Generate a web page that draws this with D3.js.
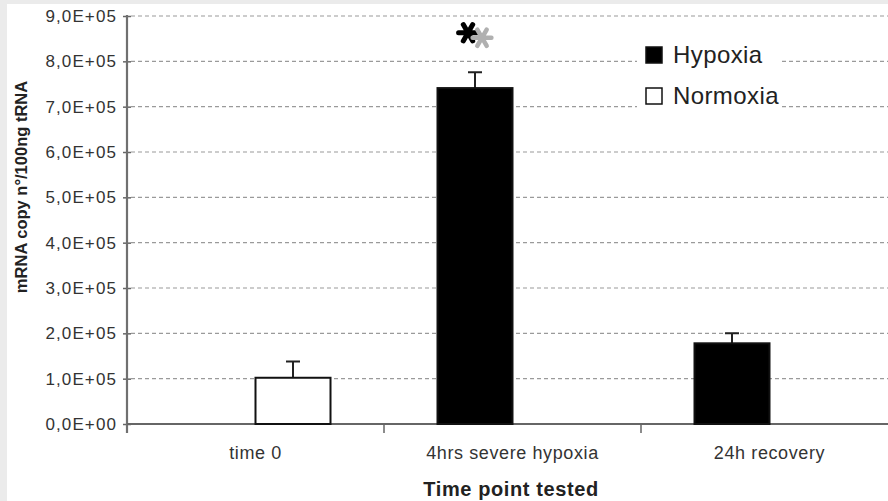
<!DOCTYPE html>
<html lang="en">
<head>
    <meta charset="UTF-8">
    <title>mRNA copy number</title>
    <script src="https://cdn.jsdelivr.net/npm/d3@7/dist/d3.min.js"></script>
    <style>
        html, body { margin: 0; padding: 0; background: #fff; }
        text { font-family: "Liberation Sans", Arial, sans-serif; }
    </style>
</head>
<body>
    <div class="chart"></div>
<script>
    // data
    const categories = ['time 0', '4hrs severe hypoxia', '24h recovery']
    const series = ['Hypoxia', 'Normoxia']
    const hypoxia = [null, 7.41e5, 1.78e5]
    const hypoxiaErr = [null, 0.35e5, 0.22e5]
    const normoxia = [1.02e5, null, null]
    const normoxiaErr = [0.36e5, null, null]
    const yTicks = [0, 1e5, 2e5, 3e5, 4e5, 5e5, 6e5, 7e5, 8e5, 9e5]

    const width = 888
    const height = 501
    const padding = { top: 16, right: -10, bottom: 77, left: 127 }

    const svg = d3.select('.chart')
        .append('svg')
        .attr('width', width)
        .attr('height', height)

    // gray frame strips of the scan
    svg.append('rect').attr('x', 0).attr('y', 0).attr('width', width).attr('height', 4).attr('fill', '#ebebeb')
    svg.append('rect').attr('x', 0).attr('y', 0).attr('width', 7).attr('height', height).attr('fill', '#ebebeb')

    const x0 = d3.scaleBand()
        .domain(categories)
        .range([padding.left, width - padding.right])
        .padding(0)
    const groupW = 150
    const x1 = d3.scaleBand().domain(series).range([0, groupW])
    const yScale = d3.scaleLinear()
        .domain([0, 9e5])
        .range([height - padding.bottom, padding.top])

    const fmt = d => d === 0 ? '0,0E+00' : (d / 1e5).toFixed(1).replace('.', ',') + 'E+05'

    // dashed gridlines
    svg.append('g')
        .selectAll('line')
        .data(yTicks.filter(d => d > 0))
        .enter()
        .append('line')
        .attr('x1', padding.left + 4)
        .attr('x2', width)
        .attr('y1', d => yScale(d))
        .attr('y2', d => yScale(d))
        .attr('stroke', '#9a9a9a')
        .attr('stroke-width', 1.2)
        .attr('stroke-dasharray', '4,3')

    // legend background covers the grid
    svg.append('rect')
        .attr('x', 637).attr('y', 28)
        .attr('width', 145).attr('height', 94)
        .attr('fill', '#fff')

    // y axis
    const yAxis = d3.axisLeft(yScale)
        .tickValues(yTicks)
        .tickFormat(fmt)
        .tickSize(4)
        .tickPadding(6)
    const gY = svg.append('g')
        .attr('transform', `translate(${padding.left}, 0)`)
        .call(yAxis)
    gY.select('.domain').remove()
    gY.selectAll('.tick line')
        .attr('x1', -4).attr('x2', 4)
        .attr('stroke', '#666').attr('stroke-width', 1.5)
    gY.selectAll('.tick text')
        .attr('font-size', '17px')
        .attr('letter-spacing', '1.1px')
        .attr('fill', '#333')
        .attr('font-family', '"Liberation Sans", Arial, sans-serif')
    gY.append('line')
        .attr('x1', 0).attr('x2', 0)
        .attr('y1', padding.top - 1)
        .attr('y2', height - padding.bottom + 9)
        .attr('stroke', '#707070')
        .attr('stroke-width', 2.2)

    // x axis
    const base = height - padding.bottom
    svg.append('line')
        .attr('x1', padding.left).attr('x2', width)
        .attr('y1', base).attr('y2', base)
        .attr('stroke', '#666').attr('stroke-width', 1.8)
    svg.append('g')
        .selectAll('line')
        .data(categories.slice(1))
        .enter()
        .append('line')
        .attr('x1', d => x0(d)).attr('x2', d => x0(d))
        .attr('y1', base).attr('y2', base + 9)
        .attr('stroke', '#666').attr('stroke-width', 1.5)
    svg.append('g')
        .selectAll('text')
        .data(categories)
        .enter()
        .append('text')
        .attr('x', d => x0(d) + x0.bandwidth() / 2)
        .attr('y', base + 35)
        .attr('text-anchor', 'middle')
        .attr('font-size', '18px')
        .attr('letter-spacing', '0.6px')
        .attr('fill', '#333')
        .text(d => d)

    // bars
    const rows = []
    categories.forEach((c, i) => {
        rows.push({ cat: c, s: 'Hypoxia', v: hypoxia[i], e: hypoxiaErr[i] })
        rows.push({ cat: c, s: 'Normoxia', v: normoxia[i], e: normoxiaErr[i] })
    })
    const data = rows.filter(d => d.v != null)
    const barX = d => x0(d.cat) + (x0.bandwidth() - groupW) / 2 + x1(d.s)

    const gBars = svg.append('g')
    gBars.selectAll('.err')
        .data(data)
        .enter()
        .append('path')
        .attr('class', 'err')
        .attr('d', d => {
            const cx = barX(d) + x1.bandwidth() / 2
            const top = yScale(d.v + d.e)
            return `M${cx},${yScale(d.v)}V${top}M${cx - 7},${top}H${cx + 7}`
        })
        .attr('stroke', '#222')
        .attr('stroke-width', 2)
        .attr('fill', 'none')
    gBars.selectAll('.rect')
        .data(data)
        .enter()
        .append('rect')
        .attr('class', 'rect')
        .attr('x', d => barX(d))
        .attr('width', x1.bandwidth())
        .attr('y', d => yScale(d.v))
        .attr('height', d => base - yScale(d.v))
        .attr('fill', d => d.s === 'Hypoxia' ? '#000' : '#fff')
        .attr('stroke', '#111')
        .attr('stroke-width', 2)

    // significance asterisks over 4hrs hypoxia
    const starRow = data.find(d => d.cat === categories[1] && d.s === 'Hypoxia')
    const starX = barX(starRow) + x1.bandwidth() / 2
    const star = d3.symbol().type(d3.symbolAsterisk).size(250)
    svg.append('path')
        .attr('d', star())
        .attr('transform', `translate(${starX - 7}, ${yScale(8.63e5)}) rotate(30)`)
        .attr('stroke', '#000').attr('stroke-width', 5).attr('stroke-linecap', 'round')
        .attr('fill', 'none')
    svg.append('path')
        .attr('d', star())
        .attr('transform', `translate(${starX + 7}, ${yScale(8.52e5)}) rotate(30)`)
        .attr('stroke', '#b0b0b0').attr('stroke-width', 4.5).attr('stroke-linecap', 'round')
        .attr('fill', 'none')

    // legend
    const legend = svg.append('g')
        .selectAll('g')
        .data(series)
        .enter()
        .append('g')
        .attr('transform', (d, i) => `translate(646, ${47 + i * 41})`)
    legend.append('rect')
        .attr('width', 16).attr('height', 16)
        .attr('fill', d => d === 'Hypoxia' ? '#000' : '#fff')
        .attr('stroke', '#111').attr('stroke-width', 1.5)
    legend.append('text')
        .attr('x', 27).attr('y', 16)
        .attr('font-size', '24px')
        .attr('letter-spacing', '0.4px')
        .attr('fill', '#222')
        .text(d => d)

    // axis titles
    svg.append('text')
        .attr('x', 511).attr('y', 496)
        .attr('text-anchor', 'middle')
        .attr('font-size', '20px')
        .attr('font-weight', 'bold')
        .attr('letter-spacing', '0.6px')
        .attr('fill', '#222')
        .text('Time point tested')
    svg.append('text')
        .attr('transform', 'translate(27, 187) rotate(-90)')
        .attr('text-anchor', 'middle')
        .attr('font-size', '16.5px')
        .attr('font-weight', 'bold')
        .attr('fill', '#222')
        .text('mRNA copy n°/100ng tRNA')
</script>
</body>
</html>
